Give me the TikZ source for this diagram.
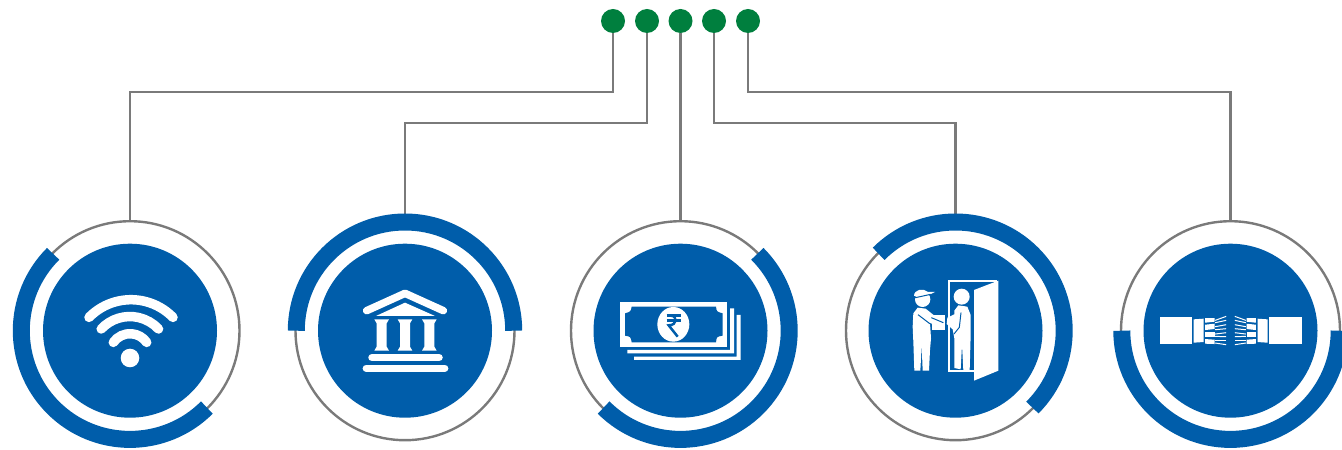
\documentclass[tikz,border=0pt]{standalone}
\usepackage{tikz}

\definecolor{hubblue}{RGB}{0,93,170}
\definecolor{dotgreen}{RGB}{0,127,62}
\definecolor{wiregray}{RGB}{122,122,122}

\tikzset{
  ring/.style={draw=wiregray,line width=2.4pt,circle,inner sep=0pt,minimum size=219pt},
  hub/.style={fill=hubblue,circle,inner sep=0pt,minimum size=174pt},
  pin/.style={fill=dotgreen,circle,inner sep=0pt,minimum size=24pt},
  wire/.style={draw=wiregray,line width=2.4pt},
  band/.style={draw=hubblue,line width=17pt},
  wave/.style={draw=white,line width=9.5pt,line cap=round},
  slab/.style={draw=white,line width=7.5pt,line cap=round,line join=round},
  zoomed/.style={x=1pt/3,y=-1pt/3},
  strand/.style={draw=white,line width=1pt}
}

\newcommand{\bankcolumn}[1]{
  \fill[white] ({#1-22},148) -- ({#1+22},148) -- ({#1+15},160) -- ({#1+15},230) -- ({#1+22},242) -- ({#1-22},242) -- ({#1-15},230) -- ({#1-15},160) -- cycle;
}
\newcommand{\cablehalf}{
  \fill[white] (-213,-41) rectangle (-116,40);
  \fill[white] (-111,-34) -- (-81,-36) -- (-81,34) -- (-111,36) -- cycle;
  \fill[white] (-76,-38) -- (-48,-38) -- (-48,-27) -- (-76,-24) -- cycle;
  \fill[white] (-76,-18) -- (-48,-21) -- (-48,-5) -- (-76,-2) -- cycle;
  \fill[white] (-76,4) -- (-48,4) -- (-48,19) -- (-76,19) -- cycle;
  \fill[white] (-76,25) -- (-48,27) -- (-48,40) -- (-76,39) -- cycle;
  \draw[strand] (-46,-31) -- (-13,-43);
  \draw[strand] (-46,-24) -- (-13,-31);
  \draw[strand] (-46,-12) -- (-13,-18);
  \draw[strand] (-46,-3) -- (-13,-6);
  \draw[strand] (-46,10) -- (-13,6);
  \draw[strand] (-46,17) -- (-13,18);
  \draw[strand] (-46,30) -- (-13,30);
  \draw[strand] (-46,37) -- (-13,42);
}

\begin{document}
\begin{tikzpicture}[x=1pt,y=1pt]
\useasboundingbox (0,0) rectangle (1342,450);

% outer rings
\node[ring] (r1) at (130,119.3) {};
\node[ring] (r2) at (405,119.3) {};
\node[ring] (r3) at (680.5,119.3) {};
\node[ring] (r4) at (955.5,119.3) {};
\node[ring] (r5) at (1230.5,119.3) {};

% green pins
\node[pin] (d1) at (613,429) {};
\node[pin] (d2) at (647,429) {};
\node[pin] (d3) at (680.5,429) {};
\node[pin] (d4) at (714,429) {};
\node[pin] (d5) at (748,429) {};

% elbows
\coordinate (b1) at (130,358);
\coordinate (b2) at (405,327);
\coordinate (b4) at (955.5,327);
\coordinate (b5) at (1230.5,358);

\draw[wire] (d1) |- (b1) -- (r1.north);
\draw[wire] (d2) |- (b2) -- (r2.north);
\draw[wire] (d3) -- (r3.north);
\draw[wire] (d4) |- (b4) -- (r4.north);
\draw[wire] (d5) |- (b5) -- (r5.north);

% thick blue arcs
\draw[band] (r1)+(135:108.7) arc (135:315:108.7);
\draw[band] (r2)+(180:108.7) arc (180:0:108.7);
\draw[band] (r3)+(45:108.7) arc (45:-135:108.7);
\draw[band] (r4)+(135:108.7) arc (135:-45:108.7);
\draw[band] (r5)+(180:108.7) arc (180:360:108.7);

% blue discs
\node[hub] (c1) at (r1) {};
\node[hub] (c2) at (r2) {};
\node[hub] (c3) at (r3) {};
\node[hub] (c4) at (r4) {};
\node[hub] (c5) at (r5) {};

% wifi
\begin{scope}[shift={(r1)}]
\draw[wave] (-41,13.3) arc (135.7:44.3:58.7);
\draw[wave] (-28.8,1.7) arc (137:43:39.2);
\draw[wave] (-16.7,-11.7) arc (145:35:20.4);
\fill[white] (0,-27.3) circle (9.3);
\end{scope}

% bank
\begin{scope}[shift={(340,180)},zoomed]
\draw[slab] (80,122) -- (195,70) -- (310,122);
\fill[white] (108,138) -- (195,98) -- (285,138) -- cycle;
\bankcolumn{125}
\bankcolumn{195}
\bankcolumn{268}
\draw[slab] (96,263) -- (297,263);
\draw[slab] (79,295) -- (314,295);
\end{scope}

% banknotes
\begin{scope}[shift={(610,165)},zoomed]
\fill[white] (52,195) -- (360,195) -- (360,70) -- (372,70) -- (372,205) -- (52,205) -- cycle;
\fill[white] (72,215) -- (380,215) -- (380,90) -- (392,90) -- (392,225) -- (72,225) -- cycle;
\fill[white] (30,52) rectangle (352,185);
\fill[hubblue] (65,65) -- (318,65) .. controls (320,80) .. (338,85) -- (338,152) .. controls (320,155) .. (318,172) -- (65,172) .. controls (62,155) .. (45,152) -- (45,85) .. controls (62,80) .. (65,65) -- cycle;
\fill[white] (190,118) ellipse (48 and 52);
\draw[hubblue,line width=2.5pt] (170,92) -- (212,92);
\draw[hubblue,line width=2.5pt] (170,106) -- (212,106);
\draw[hubblue,line width=2.5pt] (182,92) .. controls (203,92) and (203,121) .. (176,121) -- (203,155);
\end{scope}

% courier at door
\begin{scope}[shift={(900,180)},zoomed]
\draw[white,line width=2pt] (225,302) -- (147,302) -- (147,32) -- (290,32);
\fill[white] (222,60) -- (295,32) -- (295,302) -- (222,332) -- cycle;
\fill[white] (185,80) circle (24);
\fill[white] (163,122) -- (175,106) -- (202,110) -- (212,135) -- (212,195) -- (209,300) -- (190,300) -- (186,225) -- (182,298) -- (163,294) -- (163,205) -- (158,178) -- (140,162) -- (142,143) -- (163,133) -- cycle;
\draw[hubblue,line width=1pt] (183,128) -- (178,172) -- (162,192);
\fill[white] (68,88) circle (23);
\fill[white] (42,78) .. controls (42,58) and (70,53) .. (84,66) -- (105,66) -- (88,74) -- cycle;
\draw[hubblue,line width=1pt] (42,84) -- (92,73);
\fill[white] (40,130) -- (53,113) -- (77,116) -- (107,140) -- (132,150) -- (128,172) -- (100,166) -- (90,160) -- (93,205) -- (90,240) -- (87,302) -- (68,302) -- (65,225) -- (61,302) -- (43,302) -- (40,215) -- (38,170) -- cycle;
\draw[hubblue,line width=1pt] (54,134) -- (88,160) -- (98,164);
\fill[white] (96,135) rectangle (136,180);
\draw[hubblue,line width=1pt] (94,143) -- (130,158);
\end{scope}

% broken cable
\begin{scope}[shift={(r5)},zoomed]
\cablehalf
\end{scope}
\begin{scope}[shift={(r5)},zoomed,xscale=-1]
\cablehalf
\end{scope}
\end{tikzpicture}
\end{document}
